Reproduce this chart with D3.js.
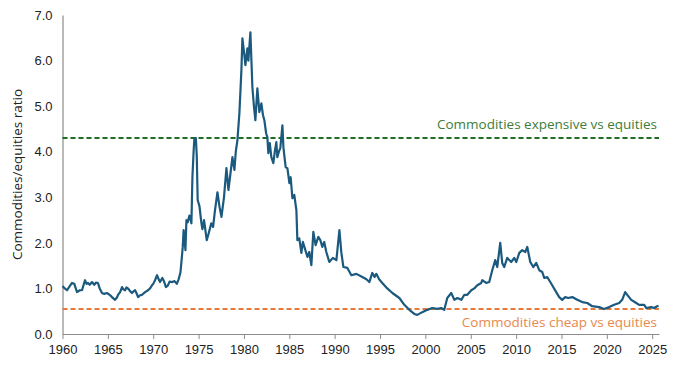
<!DOCTYPE html>
<html>
<head>
<meta charset="utf-8">
<script src="https://cdn.jsdelivr.net/npm/d3@7"></script>
<style>
  body { margin: 0; background: #fff; }
  svg { font-family: "Open Sans", sans-serif; }
  .axis path, .axis line { stroke: #8c8c8c; }
  .axis text { fill: #222; font-size: 13px; }
</style>
</head>
<body>
<div id="chart"></div>
<script>
var width = 680;
var height = 374;

// ratio series
var years = [
  1960.0, 1960.25, 1960.5, 1960.8, 1961.05, 1961.3, 1961.6, 1961.9, 1962.15, 1962.48,
  1962.65, 1962.81, 1963.0, 1963.25, 1963.5, 1963.7, 1963.9, 1964.1, 1964.35, 1964.6,
  1964.9, 1965.2, 1965.46, 1965.79, 1966.0, 1966.12, 1966.35, 1966.56, 1966.7, 1966.9,
  1967.05, 1967.22, 1967.45, 1967.66, 1967.85, 1968.0, 1968.15, 1968.33, 1968.55, 1968.77,
  1969.1, 1969.43, 1969.65, 1969.87, 1970.0, 1970.2, 1970.42, 1970.6, 1970.75, 1971.0,
  1971.2, 1971.4, 1971.6, 1971.8, 1972.1, 1972.35, 1972.6, 1972.8, 1973.0, 1973.1,
  1973.25, 1973.35, 1973.45, 1973.55, 1973.66, 1973.8, 1973.99, 1974.21, 1974.32, 1974.45,
  1974.54, 1974.7, 1974.8, 1974.9, 1975.1, 1975.3, 1975.42, 1975.6, 1975.9, 1976.1,
  1976.4, 1976.6, 1976.8, 1977.08, 1977.3, 1977.52, 1977.8, 1978.07, 1978.29, 1978.5,
  1978.73, 1978.95, 1979.1, 1979.28, 1979.5, 1979.72, 1979.83, 1980.0, 1980.16, 1980.38,
  1980.49, 1980.71, 1980.93, 1981.1, 1981.26, 1981.48, 1981.7, 1981.92, 1982.1, 1982.25,
  1982.45, 1982.58, 1982.69, 1982.85, 1983.02, 1983.24, 1983.4, 1983.57, 1983.68, 1983.85,
  1984.01, 1984.24, 1984.35, 1984.46, 1984.6, 1984.79, 1985.01, 1985.15, 1985.34, 1985.55,
  1985.78, 1985.89, 1986.1, 1986.33, 1986.5, 1986.77, 1987.0, 1987.2, 1987.43, 1987.65,
  1987.9, 1988.2, 1988.42, 1988.64, 1988.85, 1989.08, 1989.41, 1989.8, 1990.19, 1990.52,
  1990.74, 1990.96, 1991.4, 1991.84, 1992.39, 1993.05, 1993.5, 1993.82, 1994.15, 1994.4,
  1994.59, 1994.9, 1995.25, 1995.8, 1996.36, 1997.13, 1997.68, 1998.23, 1998.78, 1999.11,
  1999.66, 2000.21, 2000.76, 2001.31, 2001.75, 2002.08, 2002.41, 2002.85, 2003.19, 2003.52,
  2003.96, 2004.29, 2004.62, 2005.06, 2005.39, 2005.72, 2006.16, 2006.27, 2006.71, 2007.04,
  2007.37, 2007.7, 2007.92, 2008.25, 2008.47, 2008.69, 2009.02, 2009.46, 2009.8, 2010.02,
  2010.35, 2010.68, 2011.01, 2011.23, 2011.56, 2011.89, 2012.22, 2012.55, 2012.88, 2013.1,
  2013.43, 2013.98, 2014.42, 2014.75, 2015.08, 2015.41, 2015.74, 2016.19, 2016.74, 2017.29,
  2017.84, 2018.39, 2019.16, 2019.71, 2020.26, 2020.81, 2021.36, 2021.69, 2022.02, 2022.25,
  2022.69, 2023.24, 2023.57, 2024.12, 2024.34, 2024.89, 2025.22, 2025.55, 2025.7
];
var ratio = [
  1.05, 1.0, 0.96, 1.05, 1.12, 1.1, 0.92, 0.96, 0.96, 1.18,
  1.1, 1.12, 1.08, 1.14, 1.08, 1.13, 1.12, 1.0, 0.9, 0.88,
  0.9, 0.86, 0.81, 0.75, 0.8, 0.86, 0.92, 1.03, 0.98, 0.96,
  1.02, 1.0, 0.94, 0.9, 0.94, 0.96, 0.9, 0.81, 0.85, 0.86,
  0.92, 0.96, 1.0, 1.07, 1.1, 1.18, 1.29, 1.2, 1.14, 1.23,
  1.15, 1.03, 1.06, 1.15, 1.14, 1.16, 1.1, 1.2, 1.35, 1.56,
  1.9, 2.28, 2.1, 1.84, 2.5, 2.45, 2.6, 2.43, 3.44, 4.0,
  4.3, 4.3, 3.9, 2.94, 2.8, 2.45, 2.3, 2.5, 2.06, 2.2,
  2.43, 2.35, 2.7, 3.11, 2.8, 2.57, 3.0, 3.64, 3.16, 3.5,
  3.88, 3.6, 4.0, 4.25, 4.85, 5.79, 6.49, 6.2, 5.9, 6.27,
  6.0, 6.62, 5.42, 5.0, 4.69, 5.39, 4.87, 5.06, 4.8, 4.69,
  4.4, 4.32, 3.97, 4.19, 3.88, 3.75, 4.0, 4.21, 3.88, 4.0,
  4.08, 4.58, 4.1, 3.9, 3.66, 3.64, 3.31, 3.44, 2.98, 3.05,
  2.72, 2.06, 2.1, 1.78, 2.02, 1.84, 1.69, 1.8, 1.51, 2.24,
  1.95, 2.13, 2.06, 1.91, 2.02, 1.8, 1.58, 1.67, 1.62, 2.28,
  1.78, 1.47, 1.45, 1.29, 1.32, 1.25, 1.2, 1.14, 1.34, 1.25,
  1.32, 1.2, 1.12, 1.0, 0.9, 0.79, 0.64, 0.53, 0.44, 0.42,
  0.48, 0.53, 0.57, 0.55, 0.57, 0.53, 0.79, 0.9, 0.75, 0.79,
  0.75, 0.86, 0.86, 0.96, 1.0, 1.07, 1.12, 1.18, 1.12, 1.14,
  1.4, 1.62, 1.47, 2.0, 1.56, 1.47, 1.67, 1.58, 1.67, 1.58,
  1.78, 1.84, 1.8, 1.91, 1.58, 1.47, 1.56, 1.4, 1.36, 1.23,
  1.25, 1.07, 0.92, 0.81, 0.75, 0.81, 0.79, 0.81, 0.75, 0.7,
  0.68, 0.61, 0.59, 0.55, 0.59, 0.64, 0.68, 0.75, 0.92, 0.86,
  0.75, 0.68, 0.64, 0.64, 0.57, 0.59, 0.57, 0.61, 0.62
];

var yTicks = [0, 1, 2, 3, 4, 5, 6, 7];
var xTicks = [1960, 1965, 1970, 1975, 1980, 1985, 1990, 1995, 2000, 2005, 2010, 2015, 2020, 2025];

var expensiveLevel = 4.3;
var cheapLevel = 0.55;
var expensiveLabel = "Commodities expensive vs equities";
var cheapLabel = "Commodities cheap vs equities";
var yTitle = "Commodities/equities ratio";

var x = d3.scaleLinear().domain([1960, 2025.75]).range([62.5, 659]);
var y = d3.scaleLinear().domain([0, 7]).range([334, 15]);

var svg = d3.select("#chart").append("svg")
  .attr("width", width)
  .attr("height", height);

// y axis: line only, no tick marks
svg.append("g")
  .attr("class", "axis")
  .attr("transform", "translate(" + x.range()[0] + ",0)")
  .call(d3.axisLeft(y).tickValues(yTicks).tickSize(0).tickPadding(10).tickFormat(d3.format(".1f")));

svg.append("g")
  .attr("class", "axis")
  .attr("transform", "translate(0," + y(0) + ")")
  .call(d3.axisBottom(x).tickValues(xTicks).tickSizeInner(5).tickSizeOuter(0).tickPadding(6).tickFormat(d3.format("d")));

svg.selectAll(".axis .domain").attr("stroke-width", 1.2);

svg.append("text")
  .attr("transform", "translate(22," + y(3.5) + ") rotate(-90)")
  .attr("text-anchor", "middle")
  .style("font-size", "13.5px")
  .style("fill", "#222")
  .text(yTitle);

// threshold lines
svg.append("line")
  .attr("x1", x.range()[0]).attr("x2", x.range()[1])
  .attr("y1", y(expensiveLevel)).attr("y2", y(expensiveLevel))
  .attr("stroke", "#1f6b1f").attr("stroke-width", 2)
  .attr("stroke-dasharray", "5,3");

svg.append("line")
  .attr("x1", x.range()[0]).attr("x2", x.range()[1])
  .attr("y1", y(cheapLevel)).attr("y2", y(cheapLevel))
  .attr("stroke", "#e8783a").attr("stroke-width", 2)
  .attr("stroke-dasharray", "5,3");

var line = d3.line()
  .x(function(d, i) { return x(years[i]); })
  .y(function(d) { return y(d); });

svg.append("path")
  .datum(ratio)
  .attr("fill", "none")
  .attr("stroke", "#1b5a7e")
  .attr("stroke-width", 2.2)
  .attr("stroke-linejoin", "round")
  .attr("d", line);

svg.append("text")
  .attr("x", 657).attr("y", y(expensiveLevel) - 9)
  .attr("text-anchor", "end")
  .style("font-size", "13.5px")
  .style("fill", "#3d7d3a")
  .text(expensiveLabel);

svg.append("text")
  .attr("x", 657).attr("y", y(cheapLevel) + 18)
  .attr("text-anchor", "end")
  .style("font-size", "13.5px")
  .style("fill", "#e8884e")
  .text(cheapLabel);
</script>
</body>
</html>
